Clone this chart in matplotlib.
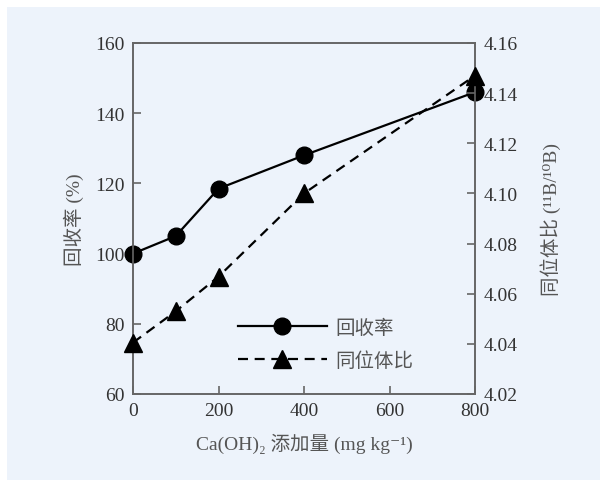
import matplotlib
matplotlib.use('Agg')
import matplotlib.pyplot as plt
from matplotlib.patches import Rectangle

# data
dose = [0, 100, 200, 400, 800]
recovery = [100, 105, 118.5, 128, 146]
ratio = [4.0405, 4.053, 4.0668, 4.100, 4.147]

x_ticks = [0, 200, 400, 600, 800]
left_ticks = [60, 80, 100, 120, 140, 160]
right_ticks = [4.02, 4.04, 4.06, 4.08, 4.10, 4.12, 4.14, 4.16]

plt.rcParams['font.family'] = ['Liberation Serif', 'Noto Sans CJK SC', 'DejaVu Serif']

bg = '#edf3fb'
spine_col = '#666666'
txt_col = '#333333'
lab_col = '#555555'

fig = plt.figure(figsize=(6, 4.81), dpi=100, facecolor='white')
fig.patches.append(Rectangle((7 / 600, 0), 1, 1 - 8 / 481, transform=fig.transFigure,
                             facecolor=bg, edgecolor='none', zorder=-10))

ax = fig.add_axes([133 / 600, 1 - 395 / 481, 342 / 600, 351 / 481])
ax.set_facecolor(bg)
ax2 = ax.twinx()

l1, = ax.plot(dose, recovery, color='black', linewidth=1.6, marker='o',
              markersize=12, label='回收率', clip_on=False, zorder=5)
l2, = ax2.plot(dose, ratio, color='black', linewidth=1.6, linestyle=(0, (4.5, 3)),
               marker='^', markersize=13, label='同位体比', clip_on=False, zorder=5)

ax.set_xlim(0, 800)
ax.set_ylim(60, 160)
ax2.set_ylim(4.02, 4.16)
ax.set_xticks(x_ticks)
ax.set_yticks(left_ticks)
ax2.set_yticks(right_ticks)
ax2.set_yticklabels(['%.2f' % v for v in right_ticks])

for a in (ax, ax2):
    for s in a.spines.values():
        s.set_color(spine_col)
        s.set_linewidth(1.2)
    a.tick_params(direction='in', length=6, width=1.2, color=spine_col,
                  labelsize=14, labelcolor=txt_col, pad=6)

ax.set_ylabel('回收率 (%)', fontsize=14, color=lab_col, labelpad=8)
ax2.set_ylabel('同位体比 (¹¹B/¹⁰B)', fontsize=14, color=lab_col, labelpad=16)
ax.set_xlabel('Ca(OH)₂ 添加量 (mg kg⁻¹)', fontsize=14, color=lab_col, labelpad=10)

leg = ax.legend(handles=[l1, l2], loc='upper left', bbox_to_anchor=(0.255, 0.265),
                frameon=False, handlelength=4.6, fontsize=14, labelspacing=0.75,
                handletextpad=0.4)
for t in leg.get_texts():
    t.set_color(lab_col)

plt.savefig('out.png', dpi=100, facecolor=fig.get_facecolor())
